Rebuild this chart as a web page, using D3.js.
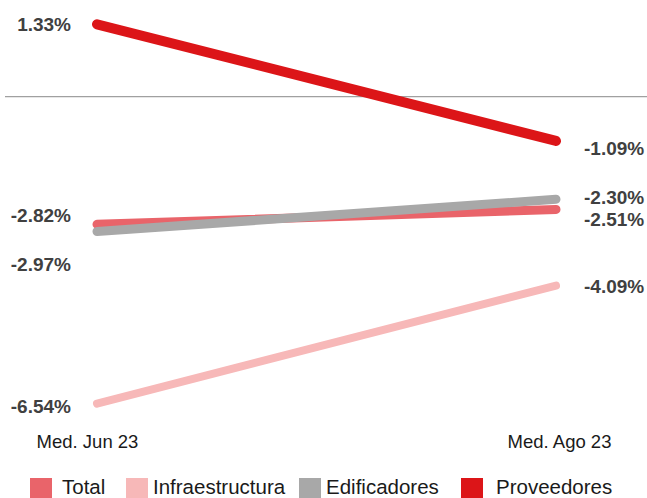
<!DOCTYPE html>
<html>
<head>
<meta charset="utf-8">
<script src="https://cdn.jsdelivr.net/npm/d3@7"></script>
<style>
  html, body { margin: 0; padding: 0; background: #fff; }
  svg { display: block; font-family: "Liberation Sans", Arial, sans-serif; }
</style>
</head>
<body>
<svg id="chart" width="647" height="498"></svg>
<script>
// ---- Data ----
const categories = ["Med. Jun 23", "Med. Ago 23"];
const seriesNames = ["Total", "Infraestructura", "Edificadores", "Proveedores"];
const totalValues = [-2.82, -2.51];
const infraValues = [-6.54, -4.09];
const edifValues = [-2.97, -2.30];
const provValues = [1.33, -1.09];
const referenceLineValue = [-0.17];

// ---- Styles / layout ----
const colors = {
  "Total": "#e9646a",
  "Infraestructura": "#f7b8b8",
  "Edificadores": "#a8a8a8",
  "Proveedores": "#dc1518"
};
const widths = { "Total": 9, "Infraestructura": 8, "Edificadores": 9, "Proveedores": 10 };
// label vertical nudges (px) for [start, end]
const labelNudge = {
  "Total": [-9, 10],
  "Infraestructura": [2, 0],
  "Edificadores": [32, -2],
  "Proveedores": [0, 7]
};
const drawOrder = ["Total", "Infraestructura", "Edificadores", "Proveedores"];

const seriesData = {
  "Total": totalValues,
  "Infraestructura": infraValues,
  "Edificadores": edifValues,
  "Proveedores": provValues
};

const svg = d3.select("#chart");

const x = d3.scalePoint().domain(categories).range([97, 556]);
const y = d3.scaleLinear().domain([-7, 1.5]).range([425.8, 16.1]);

// reference / axis line
svg.append("line")
  .attr("x1", 5).attr("x2", 647)
  .attr("y1", y(referenceLineValue[0])).attr("y2", y(referenceLineValue[0]))
  .attr("stroke", "#a0a0a0").attr("stroke-width", 1.2);

const line = d3.line().x((d, i) => x(categories[i])).y(d => y(d));

drawOrder.forEach(name => {
  svg.append("path")
    .datum(seriesData[name])
    .attr("d", line)
    .attr("fill", "none")
    .attr("stroke", colors[name])
    .attr("stroke-width", widths[name])
    .attr("stroke-linecap", "round");
});

// data labels
seriesNames.forEach(name => {
  seriesData[name].forEach((v, i) => {
    const left = i === 0;
    svg.append("text")
      .attr("x", x(categories[i]) + (left ? -26 : 28))
      .attr("y", y(v) + 7 + labelNudge[name][i])
      .attr("text-anchor", left ? "end" : "start")
      .attr("font-size", "19px")
      .attr("font-weight", "bold")
      .attr("fill", "#404040")
      .text(v.toFixed(2) + "%");
  });
});

// category axis labels
const axisG = svg.append("g").attr("transform", "translate(0,430)")
  .call(d3.axisBottom(x).tickSize(0).tickPadding(0));
axisG.select(".domain").remove();
axisG.selectAll("text")
  .attr("font-size", "18.5px")
  .attr("font-family", "'Liberation Sans', Arial, sans-serif")
  .attr("fill", "#1a1a1a")
  .attr("dy", "0")
  .attr("y", 18)
  .attr("dx", (d, i) => i === 0 ? -10 : 3);

// legend
const legendSwatchX = [30, 126, 299, 461];
const legendTextGap = [32, 27, 27, 35];
const legend = svg.append("g");
seriesNames.forEach((name, i) => {
  legend.append("rect")
    .attr("x", legendSwatchX[i]).attr("y", 478)
    .attr("width", 22).attr("height", 20)
    .attr("fill", colors[name]);
  legend.append("text")
    .attr("x", legendSwatchX[i] + legendTextGap[i])
    .attr("y", 493.5)
    .attr("font-size", "20.5px")
    .attr("fill", "#1a1a1a")
    .text(name);
});
</script>
</body>
</html>
